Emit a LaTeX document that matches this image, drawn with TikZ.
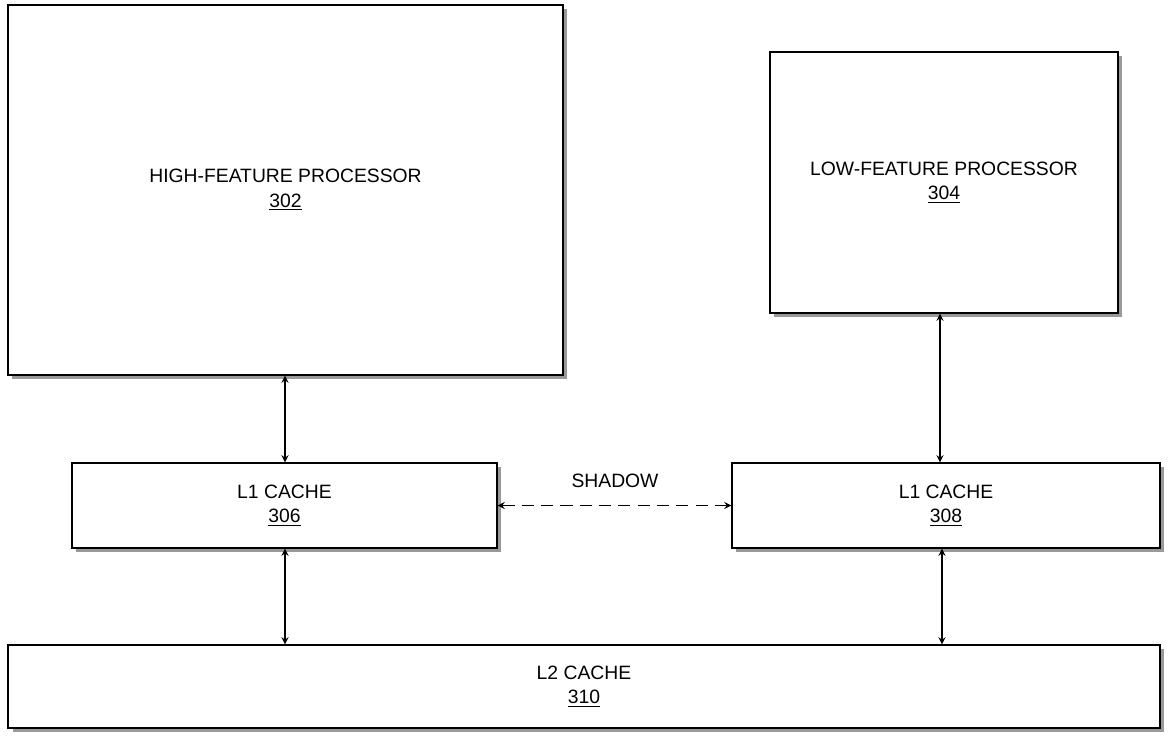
\documentclass[tikz,border=0pt]{standalone}
\usepackage{fontspec}
\setmainfont{Liberation Sans}
\usetikzlibrary{shadows}
\tikzstyle{box} = [rectangle, draw = black, fill = white, thick, align = center, font = \fontsize{11}{14}\selectfont, drop shadow = {shadow xshift = 2.5pt, shadow yshift = -2.5pt, fill = gray!80, opacity = 1}]
\tikzstyle{arrow} = [thick, <->, >=stealth, draw = black]
\tikzstyle{dasharrow} = [thick, dash pattern = on 7pt off 4pt, <->, >=stealth, draw = black]
\begin{document}
\begin{tikzpicture}[x = 0.02cm, y = -0.02cm]
    \useasboundingbox (0, 0) rectangle (1169, 741);
    \node(high)[box, minimum width = 11.1cm, minimum height = 7.4cm] at (285.5, 190) {HIGH-FEATURE PROCESSOR\\\underline{302}};
    \node(low)[box, minimum width = 6.96cm, minimum height = 5.22cm] at (944, 182.5) {LOW-FEATURE PROCESSOR\\\underline{304}};
    \node(l1a)[box, minimum width = 8.5cm, minimum height = 1.7cm] at (284.5, 505.5) {L1 CACHE\\\underline{306}};
    \node(l1b)[box, minimum width = 8.56cm, minimum height = 1.7cm] at (946, 505.5) {L1 CACHE\\\underline{308}};
    \node(l2)[box, minimum width = 23.04cm, minimum height = 1.66cm] at (584, 686.5) {L2 CACHE\\\underline{310}};
    \node(shadow) at (615, 481) {\fontsize{11}{14}\selectfont SHADOW};
    \draw[arrow] (high.south -| 285, 0) -- (l1a.north -| 285, 0);
    \draw[arrow] (l1a.south -| 285, 0) -- (l2.north -| 285, 0);
    \draw[arrow] (low.south -| 940, 0) -- (l1b.north -| 940, 0);
    \draw[arrow] (l1b.south -| 942, 0) -- (l2.north -| 942, 0);
    \draw[dasharrow] (l1a.east) -- (l1b.west);
\end{tikzpicture}
\end{document}
